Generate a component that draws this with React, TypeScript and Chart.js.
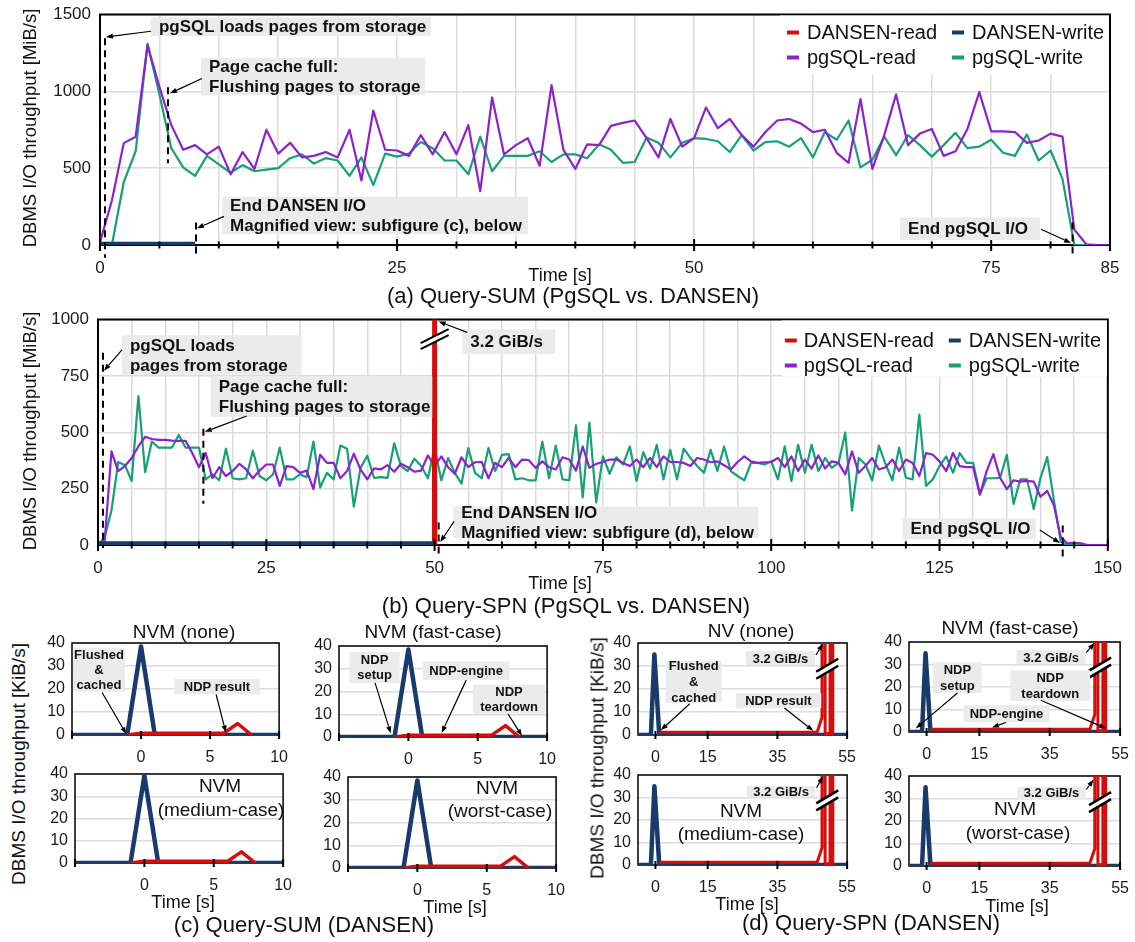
import React, { useEffect, useRef } from "react";
import { Chart, registerables } from "chart.js";

Chart.register(...registerables);

const FONT = '"Liberation Sans", Arial, Helvetica, sans-serif';
const C_RED = "#d40d0d";
const C_NAVY = "#193a6c";
const C_PURPLE = "#8b22cc";
const C_GREEN = "#17a078";

// ---------------- (a) Query-SUM (PgSQL vs. DANSEN) — MiB/s ----------------
const A_TIME = [
  0, 1, 2, 3, 4, 5, 6, 7, 8, 9, 10, 11, 12, 13, 14, 15, 16, 17, 18, 19, 20, 21, 22, 23, 24, 25, 26, 27, 28, 29,
  30, 31, 32, 33, 34, 35, 36, 37, 38, 39, 40, 41, 42, 43, 44, 45, 46, 47, 48, 49, 50, 51, 52, 53, 54, 55, 56, 57,
  58, 59, 60, 61, 62, 63, 64, 65, 66, 67, 68, 69, 70, 71, 72, 73, 74, 75, 76, 77, 78, 79, 80, 81, 82, 83, 84, 85,
];
const A_PG_READ = [
  17, 290, 663, 705, 1300, 1030, 780, 620, 650, 590,
  640, 460, 605, 495, 750, 595, 665, 570, 580, 605,
  570, 750, 420, 875, 620, 615, 580, 715, 590, 735,
  590, 780, 350, 960, 590, 650, 695, 515, 1040, 620,
  495, 655, 650, 775, 795, 810, 695, 570, 820, 640,
  695, 895, 760, 820, 715, 640, 735, 810, 820, 790,
  735, 750, 600, 535, 950, 495, 715, 980, 650, 725,
  755, 580, 610, 755, 995, 740, 740, 735, 665, 680,
  725, 705, 100, 5, 0, 0,
];
const A_PG_WRITE = [
  0, 0, 410, 610, 1310, 980, 630, 505, 450, 580,
  525, 470, 520, 480, 490, 500, 565, 590, 530, 565,
  550, 450, 570, 390, 595, 575, 595, 670, 630, 550,
  550, 460, 705, 480, 580, 580, 580, 610, 540, 590,
  590, 565, 655, 620, 535, 540, 700, 665, 570, 665,
  695, 690, 675, 605, 715, 615, 670, 675, 640, 695,
  570, 735, 685, 810, 505, 555, 705, 585, 715, 650,
  575, 650, 730, 630, 640, 685, 600, 580, 720, 550,
  615, 430, 0, 0, 0, 0,
];
const A_DANSEN_TIME = [0, 8];
const A_DANSEN_READ = [3, 3];
const A_DANSEN_WRITE = [8, 8];
const A_X_TICKS = [0, 5, 10, 15, 20, 25, 30, 35, 40, 45, 50, 55, 60, 65, 70, 75, 80, 85];
const A_X_LABELS = [0, 25, 50, 75, 85];
const A_Y_TICKS = [0, 500, 1000, 1500];

// ---------------- (b) Query-SPN (PgSQL vs. DANSEN) — MiB/s ----------------
const B_TIME = [
  0, 1, 2, 3, 4, 5, 6, 7, 8, 9, 10, 11, 12, 13, 14, 15, 16, 17, 18, 19, 20, 21, 22, 23, 24, 25, 26, 27, 28, 29,
  30, 31, 32, 33, 34, 35, 36, 37, 38, 39, 40, 41, 42, 43, 44, 45, 46, 47, 48, 49, 50, 51, 52, 53, 54, 55, 56, 57,
  58, 59, 60, 61, 62, 63, 64, 65, 66, 67, 68, 69, 70, 71, 72, 73, 74, 75, 76, 77, 78, 79, 80, 81, 82, 83, 84, 85,
  86, 87, 88, 89, 90, 91, 92, 93, 94, 95, 96, 97, 98, 99, 100, 101, 102, 103, 104, 105, 106, 107, 108, 109, 110,
  111, 112, 113, 114, 115, 116, 117, 118, 119, 120, 121, 122, 123, 124, 125, 126, 127, 128, 129, 130, 131, 132,
  133, 134, 135, 136, 137, 138, 139, 140, 141, 142, 143, 144, 145, 146, 147, 148, 149, 150,
];
const B_PG_READ = [
  0, 20, 415, 328, 350, 386, 437, 480, 470, 466,
  466, 463, 462, 462, 408, 345, 408, 296, 345, 306,
  328, 360, 335, 296, 330, 357, 357, 262, 350, 345,
  320, 330, 248, 400, 364, 364, 296, 328, 405, 335,
  291, 340, 335, 354, 325, 360, 345, 325, 330, 397,
  350, 393, 345, 316, 389, 345, 367, 368, 296, 364,
  345, 386, 345, 379, 376, 342, 371, 345, 335, 389,
  379, 330, 437, 342, 360, 368, 379, 379, 364, 350,
  379, 345, 386, 345, 393, 368, 368, 364, 350, 386,
  379, 367, 371, 354, 335, 368, 393, 371, 364, 367,
  368, 386, 345, 393, 328, 379, 339, 397, 339, 371,
  364, 313, 415, 320, 350, 386, 335, 345, 379, 328,
  379, 364, 306, 408, 400, 371, 328, 408, 350, 345,
  345, 223, 328, 403, 298, 248, 287, 281, 284, 281,
  214, 240, 175, 36, 7, 10, 7, 0, 0, 0, 0,
];
const B_PG_WRITE = [
  0, 36, 153, 368, 354, 284, 660, 323, 459, 432,
  432, 432, 488, 432, 432, 432, 291, 313, 287, 427,
  296, 291, 296, 418, 306, 287, 313, 432, 291, 291,
  313, 301, 459, 255, 320, 291, 441, 427, 170, 342,
  396, 298, 301, 298, 451, 350, 328, 383, 350, 296,
  430, 287, 386, 320, 272, 430, 320, 296, 430, 328,
  400, 403, 291, 296, 287, 287, 459, 296, 441, 291,
  287, 531, 211, 543, 189, 393, 316, 389, 357, 437,
  284, 412, 339, 444, 291, 422, 291, 427, 386, 350,
  320, 422, 328, 437, 328, 306, 287, 364, 364, 357,
  371, 291, 437, 284, 444, 320, 444, 328, 386, 342,
  364, 499, 153, 386, 357, 287, 441, 357, 287, 432,
  298, 291, 578, 262, 291, 350, 393, 320, 408, 364,
  364, 226, 296, 296, 298, 400, 182, 291, 291, 160,
  298, 390, 197, 15, 0, 0, 0, 0, 0, 0, 0,
];
const B_DANSEN_READ_TIME = [0, 49.9, 50, 50.1];
const B_DANSEN_READ = [3, 3, 3276.8, 0];
const B_DANSEN_WRITE_TIME = [0, 50];
const B_DANSEN_WRITE = [8, 8];
const B_X_TICKS = [
  0, 5, 10, 15, 20, 25, 30, 35, 40, 45, 50, 55, 60, 65, 70, 75, 80, 85, 90, 95, 100, 105, 110, 115, 120, 125, 130,
  135, 140, 145, 150,
];
const B_X_LABELS = [0, 25, 50, 75, 100, 125, 150];
const B_Y_TICKS = [0, 250, 500, 750, 1000];

// ---------------- (c) Query-SUM (DANSEN) — KiB/s ----------------
const C_WRITE_TIME = [-5, -1, 0, 1, 10];
const C_WRITE = [0, 0, 38.5, 0, 0];
const C_WRITE_MEDIUM = [0, 0, 39.3, 0, 0];
const C_READ_TIME = [-1, 0, 6, 7, 8];
const C_READ = [0, 0.8, 0.8, 5, 0];
const C_X_TICKS = [-5, 0, 5, 10];
const C_X_LABELS = [0, 5, 10];
const SMALL_Y_TICKS = [0, 10, 20, 30, 40];

// ---------------- (d) Query-SPN (DANSEN) — KiB/s ----------------
const D_WRITE_TIME = [-5, -1.3, -0.3, 1.1, 55];
const D_WRITE = [0, 0, 35, 0, 0];
const D_READ_TIME = [1.1, 46.4, 47.8, 48.2, 48.7, 50.1, 50.5, 50.9];
const D_READ = [1.2, 1.2, 7.7, 3355443, 0.6, 0.6, 3355443, 0];
const D_X_TICKS = [0, 15, 35, 55];

// ---------------- helpers ----------------
type Pt = [number, number];
interface Box { x0: number; x1: number; y0: number; y1: number; lines: string[]; align: "left" | "center"; }
interface Arrow { from: Pt; to: Pt; }
interface Dash { x: number; y0: number; y1: number; }
interface Legend { w: number; h: number; rows: number[]; markX: number[]; textX: number[]; }
interface Spec {
  L: number; T: number; R: number; B: number;
  padL: number; padT: number; padR: number; padB: number;
  xMin: number; xMax: number; xTicks: number[]; xLabels: number[];
  yMin: number; yMax: number; yTicks: number[];
  tickSize: number; xPad: number; yPad: number; xGrid: boolean;
  frame: number; tickMajor: number; tickMinor: number;
  datasets: any[];
  dashed: Dash[]; boxes: Box[]; arrows: Arrow[]; breaks: Pt[];
  boxFont: number; boxLineH: number;
  brk: { dx: number; dy: number; gap: number; lw: number };
  legend?: Legend;
}

const pts = (xs: number[], ys: number[]) => xs.map((x, i) => ({ x, y: ys[i] }));

function mainSets(dr: any[], dw: any[], pr: any[], pw: any[]) {
  return [
    { label: "DANSEN-read", data: dr, borderColor: C_RED, borderWidth: 4, order: 1 },
    { label: "DANSEN-write", data: dw, borderColor: C_NAVY, borderWidth: 4, order: 0 },
    { label: "pgSQL-read", data: pr, borderColor: C_PURPLE, borderWidth: 2.2, order: 2 },
    { label: "pgSQL-write", data: pw, borderColor: C_GREEN, borderWidth: 2.2, order: 3 },
  ];
}
function smallSets(dr: any[], dw: any[], rw: number, ww: number) {
  return [
    { label: "DANSEN-read", data: dr, borderColor: C_RED, borderWidth: rw, order: 0 },
    { label: "DANSEN-write", data: dw, borderColor: C_NAVY, borderWidth: ww, order: 1 },
  ];
}

function drawArrow(ctx: CanvasRenderingContext2D, x0: number, y0: number, x1: number, y1: number) {
  const ang = Math.atan2(y1 - y0, x1 - x0);
  const head = 7;
  const hw = 2.6;
  const bx = x1 - head * Math.cos(ang);
  const by = y1 - head * Math.sin(ang);
  ctx.beginPath();
  ctx.moveTo(x0, y0);
  ctx.lineTo(bx, by);
  ctx.stroke();
  ctx.beginPath();
  ctx.moveTo(x1, y1);
  ctx.lineTo(bx + hw * Math.sin(ang), by - hw * Math.cos(ang));
  ctx.lineTo(bx - hw * Math.sin(ang), by + hw * Math.cos(ang));
  ctx.closePath();
  ctx.fill();
}

function overlay(spec: Spec) {
  return {
    id: "overlay",
    beforeDatasetsDraw(chart: any) {
      const { ctx, chartArea: a } = chart;
      ctx.save();
      ctx.strokeStyle = "#000";
      ctx.lineWidth = spec.frame;
      ctx.strokeRect(a.left, a.top, a.right - a.left, a.bottom - a.top);
      ctx.restore();
    },
    afterDatasetsDraw(chart: any) {
      const { ctx, chartArea: a } = chart;
      const xs = chart.scales.x;
      const ys = chart.scales.y;
      const px = (t: number) => xs.getPixelForValue(t);
      const py = (v: number) => ys.getPixelForValue(v);
      ctx.save();
      ctx.strokeStyle = "#000";
      ctx.fillStyle = "#000";
      // crossing tick marks on the time axis
      ctx.lineWidth = 2;
      spec.xTicks.forEach((v) => {
        const X = px(v);
        const len = spec.xLabels.includes(v) ? spec.tickMajor : spec.tickMinor;
        ctx.beginPath();
        ctx.moveTo(X, a.bottom - len);
        ctx.lineTo(X, a.bottom + len);
        ctx.stroke();
      });
      // dashed marker lines
      ctx.lineWidth = 2;
      ctx.setLineDash([7, 5]);
      spec.dashed.forEach((d) => {
        ctx.beginPath();
        ctx.moveTo(px(d.x), py(d.y0));
        ctx.lineTo(px(d.x), py(d.y1));
        ctx.stroke();
      });
      ctx.setLineDash([]);
      // break marks
      spec.breaks.forEach((b) => {
        const cx = px(b[0]);
        const cy = py(b[1]);
        const { dx, dy, gap, lw } = spec.brk;
        const g = gap / 2;
        ctx.fillStyle = "#fff";
        ctx.beginPath();
        ctx.moveTo(cx - dx, cy + dy - g);
        ctx.lineTo(cx + dx, cy - dy - g);
        ctx.lineTo(cx + dx, cy - dy + g);
        ctx.lineTo(cx - dx, cy + dy + g);
        ctx.closePath();
        ctx.fill();
        ctx.lineWidth = lw;
        ctx.beginPath();
        ctx.moveTo(cx - dx, cy + dy - g);
        ctx.lineTo(cx + dx, cy - dy - g);
        ctx.moveTo(cx - dx, cy + dy + g);
        ctx.lineTo(cx + dx, cy - dy + g);
        ctx.stroke();
      });
      // annotation boxes
      ctx.font = `bold ${spec.boxFont}px ${FONT}`;
      ctx.textBaseline = "middle";
      spec.boxes.forEach((b) => {
        const x0 = px(b.x0), x1 = px(b.x1), y0 = py(b.y0), y1 = py(b.y1);
        ctx.fillStyle = "#ebebeb";
        ctx.fillRect(x0, y0, x1 - x0, y1 - y0);
        ctx.fillStyle = "#111";
        const cy = (y0 + y1) / 2;
        const n = b.lines.length;
        b.lines.forEach((ln, i) => {
          const y = cy + (i - (n - 1) / 2) * spec.boxLineH + 1;
          if (b.align === "left") {
            ctx.textAlign = "left";
            ctx.fillText(ln, x0 + 8, y);
          } else {
            ctx.textAlign = "center";
            ctx.fillText(ln, (x0 + x1) / 2, y);
          }
        });
      });
      // arrows
      ctx.fillStyle = "#000";
      ctx.strokeStyle = "#000";
      ctx.lineWidth = 1.2;
      spec.arrows.forEach((ar) => {
        drawArrow(ctx, px(ar.from[0]), py(ar.from[1]), px(ar.to[0]), py(ar.to[1]));
      });
      // legend
      if (spec.legend) {
        const lg = spec.legend;
        const bx = a.right - lg.w;
        const by = a.top + 1;
        ctx.fillStyle = "#fff";
        ctx.fillRect(bx, by, lg.w - 1, lg.h);
        ctx.font = `20px ${FONT}`;
        ctx.textAlign = "left";
        ctx.textBaseline = "middle";
        chart.data.datasets.forEach((ds: any, i: number) => {
          const r = Math.floor(i / 2);
          const c = i % 2;
          const y = a.top + lg.rows[r];
          ctx.fillStyle = ds.borderColor;
          ctx.fillRect(bx + lg.markX[c], y - 2, 12, 4);
          ctx.fillStyle = "#111";
          ctx.fillText(ds.label, bx + lg.textX[c], y + 1);
        });
      }
      ctx.restore();
    },
  };
}

function buildConfig(spec: Spec): any {
  const xTickObjs = () =>
    spec.xTicks.map((v) => ({ value: v, label: spec.xLabels.includes(v) ? String(v) : "" }));
  const yTickObjs = () => spec.yTicks.map((v) => ({ value: v, label: String(v) }));
  return {
    type: "line",
    data: { datasets: spec.datasets },
    options: {
      responsive: false,
      animation: false,
      devicePixelRatio: 1,
      events: [],
      layout: { padding: { left: 0, top: spec.padT, right: spec.padR, bottom: 0 } },
      plugins: { legend: { display: false }, tooltip: { enabled: false }, title: { display: false } },
      elements: {
        point: { radius: 0 },
        line: { tension: 0, fill: false, borderJoinStyle: "round", borderCapStyle: "butt" },
      },
      scales: {
        x: {
          type: "linear",
          min: spec.xMin,
          max: spec.xMax,
          afterBuildTicks: (s: any) => {
            s.ticks = spec.xTicks.map((v) => ({ value: v }));
          },
          afterFit: (s: any) => {
            s.height = spec.padB;
            s.ticks = xTickObjs();
            s._labelSizes = null;
          },
          ticks: {
            autoSkip: false,
            autoSkipPadding: 0,
            maxRotation: 0,
            padding: spec.xPad,
            color: "#1a1a1a",
            font: { family: FONT, size: spec.tickSize },
            callback: (v: number) => (spec.xLabels.includes(v) ? String(v) : ""),
          },
          grid: { display: spec.xGrid, color: "#dcdcdc", lineWidth: 1.5, drawTicks: false },
          border: { display: false },
        },
        y: {
          type: "linear",
          min: spec.yMin,
          max: spec.yMax,
          afterBuildTicks: (s: any) => {
            s.ticks = spec.yTicks.map((v) => ({ value: v }));
          },
          afterFit: (s: any) => {
            s.width = spec.padL;
            s.ticks = yTickObjs();
            s._labelSizes = null;
          },
          ticks: {
            autoSkip: false,
            autoSkipPadding: 0,
            padding: spec.yPad,
            color: "#1a1a1a",
            font: { family: FONT, size: spec.tickSize, lineHeight: 1 },
            callback: (v: number) => String(v),
          },
          grid: { color: "#dcdcdc", lineWidth: 1.5, drawTicks: false },
          border: { display: false },
        },
      },
    },
    plugins: [overlay(spec)],
  };
}

function Plot({ spec }: { spec: Spec }) {
  const ref = useRef<HTMLCanvasElement>(null);
  const w = spec.R - spec.L + spec.padL + spec.padR;
  const h = spec.B - spec.T + spec.padT + spec.padB;
  useEffect(() => {
    const chart = new Chart(ref.current as HTMLCanvasElement, buildConfig(spec));
    return () => chart.destroy();
  }, []);
  return (
    <canvas
      ref={ref}
      width={w}
      height={h}
      style={{ position: "absolute", left: spec.L - spec.padL, top: spec.T - spec.padT, width: w, height: h }}
    />
  );
}

// ---------------- chart specs ----------------
const MAIN_COMMON = {
  padL: 62, padT: 14, padR: 25, padB: 45,
  tickSize: 17, xPad: 13, yPad: 9, xGrid: true, frame: 2, tickMajor: 6, tickMinor: 3.5,
  boxFont: 17, boxLineH: 20,
  brk: { dx: 14, dy: 7, gap: 6, lw: 2 },
};

const SPEC_A: Spec = {
  ...MAIN_COMMON,
  L: 100, T: 11, R: 1110, B: 245,
  xMin: 0, xMax: 85, xTicks: A_X_TICKS, xLabels: A_X_LABELS,
  yMin: 0, yMax: 1500, yTicks: A_Y_TICKS,
  datasets: mainSets(
    pts(A_DANSEN_TIME, A_DANSEN_READ),
    pts(A_DANSEN_TIME, A_DANSEN_WRITE),
    pts(A_TIME, A_PG_READ),
    pts(A_TIME, A_PG_WRITE)
  ),
  dashed: [
    { x: 0.42, y0: 1346, y1: -83 },
    { x: 5.72, y0: 1026, y1: 532 },
    { x: 8.08, y0: 147, y1: -83 },
    { x: 81.85, y0: 147, y1: -83 },
  ],
  boxes: [
    { x0: 4.29, x1: 27.86, y0: 1481, y1: 1359, lines: ["pgSQL loads pages from storage"], align: "left" },
    { x0: 8.5, x1: 27.35, y0: 1218, y1: 974, lines: ["Page cache full:", "Flushing pages to storage"], align: "left" },
    { x0: 10.27, x1: 36.02, y0: 314, y1: 71, lines: ["End DANSEN I/O", "Magnified view: subfigure (c), below"], align: "left" },
    { x0: 67.33, x1: 79.11, y0: 179, y1: 32, lines: ["End pgSQL I/O"], align: "left" },
  ],
  arrows: [
    { from: [4.29, 1391], to: [0.5, 1353] },
    { from: [8.58, 1083], to: [5.89, 987] },
    { from: [10.44, 186], to: [8.16, 109] },
    { from: [79.2, 103], to: [81.72, 13] },
  ],
  breaks: [],
  legend: { w: 330, h: 59, rows: [18, 43], markX: [7, 172], textX: [27, 192] },
};

const SPEC_B: Spec = {
  ...MAIN_COMMON,
  L: 98, T: 316, R: 1110, B: 545,
  xMin: 0, xMax: 150, xTicks: B_X_TICKS, xLabels: B_X_LABELS,
  yMin: 0, yMax: 1000, yTicks: B_Y_TICKS,
  datasets: mainSets(
    pts(B_DANSEN_READ_TIME, B_DANSEN_READ),
    pts(B_DANSEN_WRITE_TIME, B_DANSEN_WRITE),
    pts(B_TIME, B_PG_READ),
    pts(B_TIME, B_PG_WRITE)
  ),
  dashed: [
    { x: 0.74, y0: 852, y1: -13 },
    { x: 15.65, y0: 515, y1: 183 },
    { x: 50.6, y0: 100, y1: -52 },
    { x: 143.3, y0: 87, y1: -65 },
  ],
  boxes: [
    { x0: 3.56, x1: 30.24, y0: 930, y1: 755, lines: ["pgSQL loads", "pages from storage"], align: "left" },
    { x0: 16.75, x1: 49.65, y0: 747, y1: 568, lines: ["Page cache full:", "Flushing pages to storage"], align: "left" },
    { x0: 54.1, x1: 67.9, y0: 956, y1: 847, lines: ["3.2 GiB/s"], align: "left" },
    { x0: 52.76, x1: 98.1, y0: 170, y1: 31, lines: ["End DANSEN I/O", "Magnified view: subfigure (d), below"], align: "left" },
    { x0: 119.5, x1: 139.3, y0: 118, y1: 26, lines: ["End pgSQL I/O"], align: "left" },
  ],
  arrows: [
    { from: [3.56, 865], to: [0.89, 773] },
    { from: [22.08, 572], to: [15.86, 502] },
    { from: [54.84, 943], to: [50.6, 991] },
    { from: [52.9, 105], to: [50.84, 13] },
    { from: [139.9, 66], to: [142.9, 9] },
  ],
  breaks: [[50, 913]],
  legend: { w: 326, h: 56, rows: [21, 46], markX: [3, 167], textX: [22, 187] },
};

const SMALL_COMMON = {
  padL: 40, padT: 12, padR: 14, padB: 36,
  yMin: 0, yMax: 40, yTicks: SMALL_Y_TICKS,
  tickSize: 16, xPad: 13, yPad: 7, xGrid: false, frame: 1.5, tickMajor: 4, tickMinor: 4,
  boxFont: 13, boxLineH: 15,
  brk: { dx: 11, dy: 6.5, gap: 7, lw: 2.5 },
};

const C_COMMON = { ...SMALL_COMMON, xMin: -5, xMax: 10, xTicks: C_X_TICKS, xLabels: C_X_LABELS };
const D_COMMON = { ...SMALL_COMMON, xMin: -5, xMax: 55, xTicks: D_X_TICKS, xLabels: D_X_TICKS, boxLineH: 16 };

const cSets = (w: number[]) => smallSets(pts(C_READ_TIME, C_READ), pts(C_WRITE_TIME, w), 3.5, 4.5);
const dSets = () => smallSets(pts(D_READ_TIME, D_READ), pts(D_WRITE_TIME, D_WRITE), 3, 4.5);

const SPEC_C1: Spec = {
  ...C_COMMON, L: 72, T: 640, R: 287, B: 735,
  datasets: cSets(C_WRITE),
  dashed: [],
  boxes: [
    { x0: -4.93, x1: -1.16, y0: 37.9, y1: 18.9, lines: ["Flushed", "&", "cached"], align: "center" },
    { x0: 2.4, x1: 8.6, y0: 24.4, y1: 17.7, lines: ["NDP result"], align: "center" },
  ],
  arrows: [
    { from: [-2.82, 18.5], to: [-1.07, 0.4] },
    { from: [5.44, 17.6], to: [6.14, 1.1] },
  ],
  breaks: [],
};
const SPEC_C2: Spec = {
  ...C_COMMON, L: 339, T: 643, R: 555, B: 737,
  datasets: cSets(C_WRITE),
  dashed: [],
  boxes: [
    { x0: -4.24, x1: -0.63, y0: 37.4, y1: 23.8, lines: ["NDP", "setup"], align: "center" },
    { x0: 1.04, x1: 7.29, y0: 33.2, y1: 25.1, lines: ["NDP-engine"], align: "center" },
    { x0: 4.65, x1: 9.86, y0: 23, y1: 10.2, lines: ["NDP", "teardown"], align: "center" },
  ],
  arrows: [
    { from: [-2.4, 23.8], to: [-1.27, 1.6] },
    { from: [4.17, 25], to: [2.4, 1.8] },
    { from: [7.19, 10.1], to: [8.19, 0.4] },
  ],
  breaks: [],
};
const SPEC_C3: Spec = {
  ...C_COMMON, L: 75, T: 771, R: 291, B: 863,
  datasets: cSets(C_WRITE_MEDIUM),
  dashed: [], boxes: [], arrows: [], breaks: [],
};
const SPEC_C4: Spec = {
  ...C_COMMON, L: 348, T: 774, R: 564, B: 868,
  datasets: cSets(C_WRITE),
  dashed: [], boxes: [], arrows: [], breaks: [],
};

const SPEC_D1: Spec = {
  ...D_COMMON, L: 638, T: 640, R: 855, B: 735,
  datasets: dSets(),
  dashed: [],
  boxes: [
    { x0: 2.93, x1: 19.05, y0: 32.3, y1: 14, lines: ["Flushed", "&", "cached"], align: "center" },
    { x0: 25.96, x1: 45.8, y0: 36.5, y1: 30.4, lines: ["3.2 GiB/s"], align: "center" },
    { x0: 23.0, x1: 47.6, y0: 18.2, y1: 11.7, lines: ["NDP result"], align: "center" },
  ],
  arrows: [
    { from: [9.85, 13.6], to: [1.55, 2.1] },
    { from: [46.06, 34.8], to: [48.08, 39.7] },
    { from: [37.0, 11.7], to: [45.3, 1.8] },
  ],
  breaks: [[49.3, 28.8]],
};
const SPEC_D2: Spec = {
  ...D_COMMON, L: 909, T: 639, R: 1128, B: 732,
  datasets: dSets(),
  dashed: [],
  boxes: [
    { x0: 25.55, x1: 45.27, y0: 36.4, y1: 30.2, lines: ["3.2 GiB/s"], align: "center" },
    { x0: 1.85, x1: 15.66, y0: 31, y1: 17.3, lines: ["NDP", "setup"], align: "center" },
    { x0: 23.77, x1: 46.5, y0: 27.4, y1: 13.8, lines: ["NDP", "teardown"], align: "center" },
    { x0: 10.53, x1: 34.9, y0: 11.9, y1: 4.4, lines: ["NDP-engine"], align: "center" },
  ],
  arrows: [
    { from: [45.4, 35.3], to: [47.74, 39.6] },
    { from: [8.75, 17.3], to: [-3.08, 1.6] },
    { from: [32.45, 14.1], to: [51, 1.6] },
    { from: [22.56, 4.2], to: [18.6, 2] },
  ],
  breaks: [[49.3, 28.6]],
};
const SPEC_D3: Spec = {
  ...D_COMMON, L: 638, T: 772, R: 855, B: 865,
  datasets: dSets(),
  dashed: [],
  boxes: [{ x0: 26.24, x1: 45.87, y0: 35.1, y1: 30.1, lines: ["3.2 GiB/s"], align: "center" }],
  arrows: [{ from: [46.23, 34.4], to: [48.14, 39.4] }],
  breaks: [[49.3, 28.7]],
};
const SPEC_D4: Spec = {
  ...D_COMMON, L: 909, T: 773, R: 1128, B: 866,
  datasets: dSets(),
  dashed: [],
  boxes: [{ x0: 25.74, x1: 45.27, y0: 35.3, y1: 29.8, lines: ["3.2 GiB/s"], align: "center" }],
  arrows: [{ from: [45.4, 34], to: [47.47, 38.4] }],
  breaks: [[49.3, 28.4]],
};

const SPECS = [SPEC_A, SPEC_B, SPEC_C1, SPEC_C2, SPEC_C3, SPEC_C4, SPEC_D1, SPEC_D2, SPEC_D3, SPEC_D4];

interface TextItem { x: number; y: number; s: number; t: string; r?: boolean; }
const TEXTS: TextItem[] = [
  { x: 30, y: 128, s: 18.5, t: "DBMS I/O throughput [MiB/s]", r: true },
  { x: 560, y: 275, s: 18, t: "Time [s]" },
  { x: 573, y: 296, s: 22, t: "(a) Query-SUM (PgSQL vs. DANSEN)" },
  { x: 30, y: 431, s: 18.5, t: "DBMS I/O throughput [MiB/s]", r: true },
  { x: 560, y: 583, s: 18, t: "Time [s]" },
  { x: 566, y: 606, s: 22, t: "(b) Query-SPN (PgSQL vs. DANSEN)" },
  { x: 18, y: 764, s: 19, t: "DBMS I/O throughput [KiB/s]", r: true },
  { x: 184, y: 631, s: 19, t: "NVM (none)" },
  { x: 433, y: 631, s: 19, t: "NVM (fast-case)" },
  { x: 220, y: 785, s: 19, t: "NVM" },
  { x: 221, y: 809, s: 19, t: "(medium-case)" },
  { x: 497, y: 787, s: 19, t: "NVM" },
  { x: 500, y: 810, s: 19, t: "(worst-case)" },
  { x: 183, y: 902, s: 18, t: "Time [s]" },
  { x: 455, y: 907, s: 18, t: "Time [s]" },
  { x: 304, y: 925, s: 22, t: "(c) Query-SUM (DANSEN)" },
  { x: 597, y: 758, s: 19, t: "DBMS I/O throughput [KiB/s]", r: true },
  { x: 751, y: 630, s: 19, t: "NV (none)" },
  { x: 1010, y: 627, s: 19, t: "NVM (fast-case)" },
  { x: 741, y: 810, s: 19, t: "NVM" },
  { x: 741, y: 833, s: 19, t: "(medium-case)" },
  { x: 1015, y: 808, s: 19, t: "NVM" },
  { x: 1018, y: 832, s: 19, t: "(worst-case)" },
  { x: 747, y: 904, s: 18, t: "Time [s]" },
  { x: 1017, y: 906, s: 18, t: "Time [s]" },
  { x: 871, y: 923, s: 22, t: "(d) Query-SPN (DANSEN)" },
];

export default function App() {
  return (
    <div
      style={{
        position: "absolute",
        left: 0,
        top: 0,
        width: 1135,
        height: 942,
        overflow: "hidden",
        background: "#fff",
        fontFamily: FONT,
      }}
    >
      {SPECS.map((s, i) => (
        <Plot key={i} spec={s} />
      ))}
      {TEXTS.map((tx, i) => (
        <div
          key={"t" + i}
          style={{
            position: "absolute",
            left: tx.x,
            top: tx.y,
            transform: `translate(-50%, -50%)${tx.r ? " rotate(-90deg)" : ""}`,
            fontSize: tx.s,
            lineHeight: 1,
            whiteSpace: "nowrap",
            color: "#111",
            fontFamily: FONT,
          }}
        >
          {tx.t}
        </div>
      ))}
    </div>
  );
}
